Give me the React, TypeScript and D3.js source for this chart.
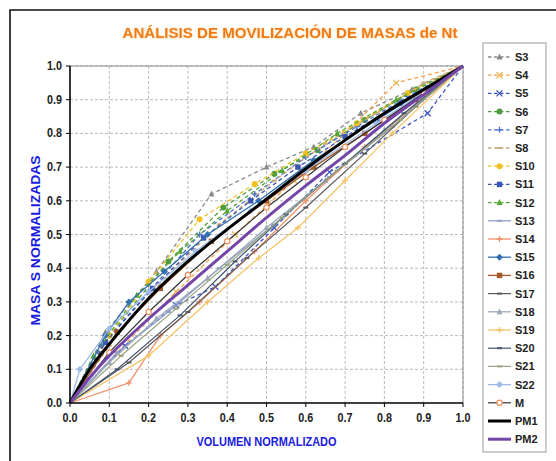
import React from "react";
import * as d3 from "d3";

type Pt = [number, number];

// ---- data (normalized volume, normalized mass) ----
const xTicks = [0, 0.1, 0.2, 0.3, 0.4, 0.5, 0.6, 0.7, 0.8, 0.9, 1.0];
const yTicks = [0, 0.1, 0.2, 0.3, 0.4, 0.5, 0.6, 0.7, 0.8, 0.9, 1.0];

const s3: Pt[] = [[0,0],[0.09,0.21],[0.22,0.39],[0.36,0.62],[0.5,0.70],[0.62,0.76],[0.74,0.86],[0.87,0.93],[1,1]];
const s4: Pt[] = [[0,0],[0.12,0.15],[0.27,0.33],[0.42,0.5],[0.57,0.66],[0.7,0.8],[0.83,0.95],[1,1]];
const s5: Pt[] = [[0,0],[0.14,0.17],[0.27,0.29],[0.37,0.345],[0.52,0.52],[0.66,0.685],[0.91,0.86],[1,1]];
const s6: Pt[] = [[0,0],[0.1,0.2],[0.25,0.42],[0.39,0.58],[0.52,0.68],[0.63,0.75],[0.75,0.84],[0.88,0.93],[1,1]];
const s7: Pt[] = [[0,0],[0.08,0.17],[0.2,0.33],[0.33,0.5],[0.47,0.62],[0.6,0.73],[0.73,0.82],[0.86,0.91],[1,1]];
const s8: Pt[] = [[0,0],[0.1,0.17],[0.24,0.37],[0.38,0.53],[0.52,0.66],[0.65,0.77],[0.78,0.86],[0.9,0.95],[1,1]];
const s10: Pt[] = [[0,0],[0.1,0.2],[0.2,0.36],[0.33,0.545],[0.47,0.65],[0.6,0.74],[0.73,0.83],[0.86,0.92],[1,1]];
const s11: Pt[] = [[0,0],[0.09,0.18],[0.21,0.34],[0.34,0.49],[0.46,0.6],[0.58,0.7],[0.7,0.79],[0.84,0.89],[1,1]];
const s12: Pt[] = [[0,0],[0.06,0.14],[0.17,0.32],[0.28,0.45],[0.4,0.57],[0.54,0.69],[0.68,0.8],[0.83,0.9],[1,1]];
const s13: Pt[] = [[0,0],[0.12,0.15],[0.25,0.27],[0.38,0.4],[0.52,0.53],[0.66,0.67],[0.82,0.82],[1,1]];
const s14: Pt[] = [[0,0],[0.15,0.06],[0.23,0.2],[0.33,0.3],[0.47,0.45],[0.6,0.6],[0.75,0.76],[1,1]];
const s15: Pt[] = [[0,0],[0.09,0.2],[0.15,0.3],[0.24,0.39],[0.35,0.5],[0.48,0.6],[0.62,0.72],[0.78,0.84],[1,1]];
const s16: Pt[] = [[0,0],[0.12,0.21],[0.23,0.34],[0.36,0.48],[0.5,0.6],[0.62,0.7],[0.75,0.8],[0.88,0.9],[1,1]];
const s17: Pt[] = [[0,0],[0.15,0.12],[0.3,0.27],[0.45,0.43],[0.6,0.58],[0.75,0.74],[0.88,0.88],[1,1]];
const s18: Pt[] = [[0,0],[0.1,0.12],[0.22,0.25],[0.35,0.37],[0.5,0.52],[0.65,0.66],[0.8,0.81],[1,1]];
const s19: Pt[] = [[0,0],[0.2,0.14],[0.35,0.3],[0.48,0.43],[0.58,0.52],[0.7,0.66],[0.82,0.8],[1,1]];
const s20: Pt[] = [[0,0],[0.12,0.1],[0.28,0.26],[0.42,0.42],[0.55,0.56],[0.7,0.71],[0.85,0.86],[1,1]];
const s21: Pt[] = [[0,0],[0.13,0.14],[0.27,0.28],[0.4,0.41],[0.54,0.55],[0.68,0.69],[0.84,0.84],[1,1]];
const s22: Pt[] = [[0,0],[0.025,0.1],[0.1,0.22],[0.2,0.33],[0.32,0.45],[0.46,0.57],[0.6,0.69],[0.78,0.83],[1,1]];
const m: Pt[] = [[0,0],[0.1,0.15],[0.2,0.27],[0.3,0.38],[0.4,0.48],[0.5,0.58],[0.6,0.67],[0.7,0.76],[0.8,0.84],[0.9,0.92],[1,1]];
const pm1: Pt[] = [[0,0],[0.05,0.1],[0.1,0.175],[0.2,0.31],[0.3,0.42],[0.4,0.515],[0.5,0.605],[0.6,0.695],[0.7,0.78],[0.8,0.86],[0.9,0.93],[1,1]];
const pm2: Pt[] = [[0,0],[0.05,0.075],[0.1,0.14],[0.2,0.25],[0.3,0.35],[0.4,0.45],[0.5,0.55],[0.6,0.645],[0.7,0.735],[0.8,0.83],[0.9,0.915],[1,1]];

type Marker = "tri" | "x" | "circle" | "plus" | "dash" | "square" | "diamond" | "ocircle" | "none";
interface Series { name: string; data: Pt[]; color: string; dashed: boolean; marker: Marker; width: number; mcolor?: string; }

const series: Series[] = [
  { name: "S3", data: s3, color: "#8a8a8a", dashed: true, marker: "tri", width: 1.3 },
  { name: "S4", data: s4, color: "#f2a24a", dashed: true, marker: "x", width: 1.3, mcolor: "#e8b850" },
  { name: "S5", data: s5, color: "#3b55c4", dashed: true, marker: "x", width: 1.3 },
  { name: "S6", data: s6, color: "#4f9a3e", dashed: true, marker: "circle", width: 1.3 },
  { name: "S7", data: s7, color: "#4d6fcf", dashed: true, marker: "plus", width: 1.3 },
  { name: "S8", data: s8, color: "#c9a97a", dashed: true, marker: "dash", width: 1.3 },
  { name: "S10", data: s10, color: "#f0c020", dashed: true, marker: "circle", width: 1.3 },
  { name: "S11", data: s11, color: "#3a55b0", dashed: true, marker: "square", width: 1.3 },
  { name: "S12", data: s12, color: "#55a535", dashed: true, marker: "tri", width: 1.3 },
  { name: "S13", data: s13, color: "#8f9ccc", dashed: false, marker: "dash", width: 1.3 },
  { name: "S14", data: s14, color: "#f2906a", dashed: false, marker: "plus", width: 1.3 },
  { name: "S15", data: s15, color: "#336fae", dashed: false, marker: "diamond", width: 1.3 },
  { name: "S16", data: s16, color: "#a3582a", dashed: false, marker: "square", width: 1.3 },
  { name: "S17", data: s17, color: "#5a5a5a", dashed: false, marker: "dash", width: 1.2 },
  { name: "S18", data: s18, color: "#9aa8b8", dashed: false, marker: "tri", width: 1.3 },
  { name: "S19", data: s19, color: "#f4c46a", dashed: false, marker: "plus", width: 1.3 },
  { name: "S20", data: s20, color: "#45566e", dashed: false, marker: "dash", width: 1.2 },
  { name: "S21", data: s21, color: "#98a47e", dashed: false, marker: "dash", width: 1.2 },
  { name: "S22", data: s22, color: "#9dbbe6", dashed: false, marker: "diamond", width: 1.3 },
  { name: "M", data: m, color: "#333333", dashed: false, marker: "ocircle", width: 1.2, mcolor: "#f0905a" },
  { name: "PM1", data: pm1, color: "#000000", dashed: false, marker: "none", width: 3 },
  { name: "PM2", data: pm2, color: "#7345a8", dashed: false, marker: "none", width: 3 },
];

const W = 556, H = 461;
const left = 70, right = 463, top = 66, bottom = 403;
const font = "'Liberation Sans', Arial, sans-serif";

function MarkerShape({ type, x, y, color, mcolor }: { type: Marker; x: number; y: number; color: string; mcolor?: string }) {
  const c = mcolor || color;
  const s = 3;
  switch (type) {
    case "tri":
      return <path d={`M${x},${y - s - 0.5}L${x + s},${y + s - 0.5}L${x - s},${y + s - 0.5}Z`} fill={c} />;
    case "x":
      return <path d={`M${x - s},${y - s}L${x + s},${y + s}M${x - s},${y + s}L${x + s},${y - s}`} stroke={c} strokeWidth={1.3} />;
    case "circle":
      return <circle cx={x} cy={y} r={s} fill={c} />;
    case "ocircle":
      return <circle cx={x} cy={y} r={2.6} fill="#fff" stroke={c} strokeWidth={1.2} />;
    case "plus":
      return <path d={`M${x - s},${y}L${x + s},${y}M${x},${y - s}L${x},${y + s}`} stroke={c} strokeWidth={1.3} />;
    case "dash":
      return <path d={`M${x - 2.5},${y}L${x + 2.5},${y}`} stroke={c} strokeWidth={2} />;
    case "square":
      return <rect x={x - 2.7} y={y - 2.7} width={5.4} height={5.4} fill={c} />;
    case "diamond":
      return <path d={`M${x},${y - s - 0.5}L${x + s + 0.5},${y}L${x},${y + s + 0.5}L${x - s - 0.5},${y}Z`} fill={c} />;
    default:
      return null;
  }
}

export default function App() {
  const x = d3.scaleLinear().domain([0, 1]).range([left, right]);
  const y = d3.scaleLinear().domain([0, 1]).range([bottom, top]);
  const line = d3.line<Pt>().x((d) => x(d[0])).y((d) => y(d[1]));
  const smooth = d3.line<Pt>().x((d) => x(d[0])).y((d) => y(d[1])).curve(d3.curveCatmullRom.alpha(0.5));

  const legX = 483, legY = 43, legW = 63, legH = 409;
  const rowY = (i: number) => 57 + i * 18.2;

  return (
    <svg width={W} height={H} style={{ position: "absolute", left: 0, top: 0, background: "#fff" }}>
      <defs>
        <filter id="glow" x="-5%" y="-30%" width="110%" height="160%">
          <feGaussianBlur in="SourceAlpha" stdDeviation="1.2" result="b" />
          <feFlood floodColor="#f8c070" floodOpacity="0.7" />
          <feComposite in2="b" operator="in" result="g" />
          <feMerge>
            <feMergeNode in="g" />
            <feMergeNode in="SourceGraphic" />
          </feMerge>
        </filter>
      </defs>
      <rect x={0} y={0} width={W} height={H} fill="#fff" />
      {/* outer frame */}
      <path d={`M10,${H + 2}L10,10L${W + 2},10`} fill="none" stroke="#111" strokeWidth={1.6} />

      {/* title */}
      <text x={290} y={38} textAnchor="middle" fontFamily={font} fontWeight="bold" fontSize={14}
        fill="#f07a10" textLength={335} lengthAdjust="spacingAndGlyphs" filter="url(#glow)">
        ANÁLISIS DE MOVILIZACIÓN DE MASAS de Nt
      </text>

      {/* grid */}
      {xTicks.slice(1).map((t) => (
        <line key={"gx" + t} x1={x(t)} x2={x(t)} y1={top} y2={bottom} stroke="#a8a8a8" strokeWidth={0.8} strokeDasharray="3,2" />
      ))}
      {yTicks.slice(1).map((t) => (
        <line key={"gy" + t} x1={left} x2={right} y1={y(t)} y2={y(t)} stroke="#a8a8a8" strokeWidth={0.8} strokeDasharray="3,2" />
      ))}
      <line x1={left} x2={right} y1={top} y2={top} stroke="#8c8c8c" strokeWidth={1} />
      <line x1={right} x2={right} y1={top} y2={bottom} stroke="#8c8c8c" strokeWidth={1} />

      {/* series */}
      {series.map((s) => (
        <g key={s.name}>
          <path d={(s.name === "PM1" || s.name === "PM2" ? smooth : line)(s.data) || ""} fill="none" stroke={s.color}
            strokeWidth={s.width} strokeDasharray={s.dashed ? "4,3" : undefined} strokeLinejoin="round" />
          {s.marker !== "none" && s.data.slice(1, -1).map((d, i) => (
            <MarkerShape key={i} type={s.marker} x={x(d[0])} y={y(d[1])} color={s.color} mcolor={s.mcolor} />
          ))}
        </g>
      ))}

      {/* axes */}
      <line x1={left} x2={left} y1={top} y2={bottom} stroke="#000" strokeWidth={1.6} />
      <line x1={left} x2={right} y1={bottom} y2={bottom} stroke="#000" strokeWidth={1.6} />
      {xTicks.map((t) => (
        <g key={"xt" + t}>
          <line x1={x(t)} x2={x(t)} y1={bottom} y2={bottom + 4} stroke="#000" strokeWidth={1} />
          <text x={x(t)} y={422} textAnchor="middle" fontFamily={font} fontWeight="bold" fontSize={12} fill="#222"
            textLength={15} lengthAdjust="spacingAndGlyphs">
            {t.toFixed(1)}
          </text>
        </g>
      ))}
      {yTicks.map((t) => (
        <g key={"yt" + t}>
          <line x1={left - 4} x2={left} y1={y(t)} y2={y(t)} stroke="#000" strokeWidth={1} />
          <text x={62} y={y(t) + 4} textAnchor="end" fontFamily={font} fontWeight="bold" fontSize={12} fill="#222"
            textLength={15} lengthAdjust="spacingAndGlyphs">
            {t.toFixed(1)}
          </text>
        </g>
      ))}

      {/* axis titles */}
      <text x={(left + right) / 2} y={446} textAnchor="middle" fontFamily={font} fontWeight="bold" fontSize={12.5}
        fill="#1a1ae0" textLength={140} lengthAdjust="spacingAndGlyphs">VOLUMEN NORMALIZADO</text>
      <text transform={`translate(40,${(top + bottom) / 2 + 6}) rotate(-90)`} textAnchor="middle" fontFamily={font}
        fontWeight="bold" fontSize={12.5} fill="#1a1ae0" textLength={170} lengthAdjust="spacingAndGlyphs">MASA S NORMALIZADAS</text>

      {/* legend */}
      <rect x={legX} y={legY} width={legW} height={legH} fill="#fff" stroke="#9a9a9a" strokeWidth={1} />
      {series.map((s, i) => (
        <g key={"lg" + s.name}>
          <line x1={488} x2={511} y1={rowY(i)} y2={rowY(i)} stroke={s.color} strokeWidth={s.width}
            strokeDasharray={s.dashed ? "3.5,2.5" : undefined} />
          {s.marker !== "none" && <MarkerShape type={s.marker} x={499.5} y={rowY(i)} color={s.color} mcolor={s.mcolor} />}
          <text x={515} y={rowY(i) + 4} fontFamily={font} fontWeight="bold" fontSize={11} fill="#222">{s.name}</text>
        </g>
      ))}
    </svg>
  );
}
